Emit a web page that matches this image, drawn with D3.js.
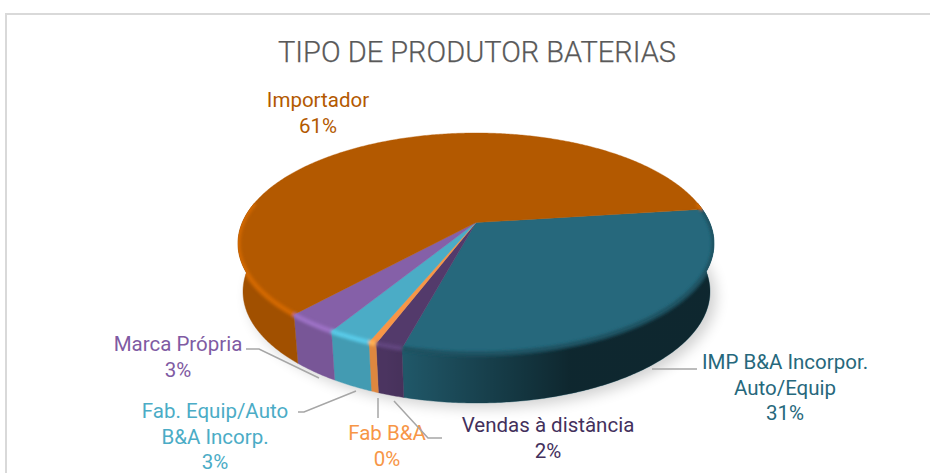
<!DOCTYPE html>
<html>
<head>
<meta charset="utf-8">
<script src="https://cdn.jsdelivr.net/npm/d3@7"></script>
<style>
html, body { margin: 0; padding: 0; background: #fff; overflow: hidden; }
text { font-family: Roboto, sans-serif; }
</style>
</head>
<body>
<svg id="chart" width="930" height="473"></svg>
<script>
// valores (ordem horária, a partir da fatia IMP)
const categories = ["IMP B&A Incorpor. Auto/Equip", "Vendas à distância", "Fab B&A", "Fab. Equip/Auto B&A Incorp.", "Marca Própria", "Importador"];
const shares = [31.2, 1.55, 0.45, 2.5, 3.0, 61.3];
const colors = ["#26687c", "#533a6b", "#f79646", "#4bacc6", "#8560a8", "#b35900"];
const labelColors = ["#26687c", "#43305c", "#f79646", "#4bacc6", "#7f5ba3", "#b35900"];
const titleText = "TIPO DE PRODUTOR BATERIAS";

const svg = d3.select("#chart");
const defs = svg.append("defs");

// moldura
svg.append("rect").attr("x", 6).attr("y", 14).attr("width", 1000).attr("height", 600)
    .attr("fill", "none").attr("stroke", "#d9d9d9").attr("stroke-width", 2);

svg.append("text").attr("x", 477).attr("y", 62).attr("text-anchor", "middle")
    .attr("font-size", 29).attr("font-weight", 300).attr("fill", "#595959")
    .attr("stroke", "#595959").attr("stroke-width", 0.25)
    .attr("textLength", 398).attr("lengthAdjust", "spacingAndGlyphs").text(titleText);

// elipse do topo e da base, perspectiva pelo deslocamento do centro
const topX = d3.scaleLinear().domain([-1, 1]).range([238, 714]);
const topY = d3.scaleLinear().domain([-1, 1]).range([133, 354]);
const baseX = d3.scaleLinear().domain([-1, 1]).range([243, 710]);
const baseY = d3.scaleLinear().domain([-1, 1]).range([180, 403]);
const persp = -0.19;

function rimPoint(angle, xs, ys) {
    const u = Math.sin(angle), v = -Math.cos(angle);
    const d = 1 + persp * v;
    return [xs(u * Math.sqrt(1 - persp * persp) / d), ys((v + persp) / d)];
}
const apex = [topX(0), topY(persp)];

const pie = d3.pie().sort(null).startAngle(82.7 * Math.PI / 180).endAngle((82.7 + 360) * Math.PI / 180);
const slices = pie(shares);

function arcAngles(a0, a1) {
    const n = Math.max(2, Math.ceil((a1 - a0) / 0.01));
    return d3.range(n + 1).map(i => a0 + (a1 - a0) * i / n);
}
const line = d3.line();

// só a parte da frente tem lateral (90° a 270° em ângulo d3, com folga nos extremos)
const frontStart = Math.PI / 2 - 0.19, frontEnd = 3 * Math.PI / 2 + 0.19;
function frontRange(s) {
    const out = [];
    [0, 2 * Math.PI].forEach(off => {
        const a0 = Math.max(s.startAngle - off, frontStart);
        const a1 = Math.min(s.endAngle - off, frontEnd);
        if (a1 > a0) out.push([a0, a1]);
    });
    return out;
}
function sidePath(a0, a1) {
    const angs = arcAngles(a0, a1);
    const top = angs.map(a => rimPoint(a, topX, topY));
    const base = angs.slice().reverse().map(a => rimPoint(a, baseX, baseY));
    return line(top.concat(base)) + "Z";
}

// sombra
defs.append("filter").attr("id", "soft").attr("x", "-20%").attr("y", "-20%").attr("width", "140%").attr("height", "140%")
    .append("feGaussianBlur").attr("stdDeviation", 7);
defs.append("filter").attr("id", "bevelBlur").attr("x", "-5%").attr("y", "-5%").attr("width", "110%").attr("height", "110%")
    .append("feGaussianBlur").attr("stdDeviation", 1.8);

const baseOutline = line(arcAngles(0, 2 * Math.PI).map(a => rimPoint(a, baseX, baseY))) + "Z";
svg.append("path").attr("d", baseOutline).attr("fill", "#000").attr("opacity", 0.18)
    .attr("filter", "url(#soft)").attr("transform", "translate(6,5)");

// escurecimento da lateral para a direita
const shade = defs.append("linearGradient").attr("id", "sideShade")
    .attr("gradientUnits", "userSpaceOnUse").attr("x1", 385).attr("x2", 570).attr("y1", 0).attr("y2", 0);
shade.append("stop").attr("offset", 0).attr("stop-color", "#000").attr("stop-opacity", 0);
shade.append("stop").attr("offset", 1).attr("stop-color", "#000").attr("stop-opacity", 0.58);

const sides = svg.append("g");
slices.forEach((s, i) => {
    frontRange(s).forEach(r => {
        sides.append("path").attr("d", sidePath(r[0], r[1]))
            .attr("fill", d3.color(colors[i]).darker(0.3)).attr("stroke", d3.color(colors[i]).darker(0.3)).attr("stroke-width", 0.4);
    });
});
sides.append("path").attr("d", sidePath(frontStart, frontEnd)).attr("fill", "url(#sideShade)");

// topo
slices.forEach((s, i) => {
    const rim = arcAngles(s.startAngle, s.endAngle).map(a => rimPoint(a, topX, topY));
    svg.append("path").attr("d", line([apex].concat(rim)) + "Z")
        .attr("fill", colors[i]).attr("stroke", colors[i]).attr("stroke-width", 0.4);
});

// brilho na borda, recortado pela silhueta da pizza
const topOutline = line(arcAngles(0, 2 * Math.PI).map(a => rimPoint(a, topX, topY))) + "Z";
const bevelClip = defs.append("clipPath").attr("id", "bevelClip");
bevelClip.append("path").attr("d", topOutline);
bevelClip.append("path").attr("d", sidePath(frontStart, frontEnd));
const bevel = svg.append("g").attr("clip-path", "url(#bevelClip)").append("g").attr("filter", "url(#bevelBlur)");
slices.forEach((s, i) => {
    frontRange(s).forEach(r => {
        const pts = arcAngles(r[0], r[1]).map(a => rimPoint(a, topX, topY));
        bevel.append("path").attr("d", line(pts)).attr("fill", "none")
            .attr("stroke", i === 0 ? d3.color(colors[i]).darker(0.7) : d3.color(colors[i]).brighter(0.45))
            .attr("stroke-width", 5);
    });
});

// rótulos
const labelLines = [
    ["IMP B&A Incorpor.", "Auto/Equip"],
    ["Vendas à distância"],
    ["Fab B&A"],
    ["Fab. Equip/Auto", "B&A Incorp."],
    ["Marca Própria"],
    ["Importador"]
];
const labelAnchors = [[785, 369], [548, 432], [387, 440], [215, 418], [178, 351], [318, 107]];
const leaders = [
    [[697, 369], [652, 369]],
    [[442, 438], [428, 438], [394, 401]],
    [[378, 418], [378, 398]],
    [[298, 412], [304, 412], [356, 391]],
    [[246, 349], [259, 349], [319, 378]]
];
const labelSize = 20.5;
slices.forEach((s, i) => {
    const t = svg.append("text").attr("x", labelAnchors[i][0]).attr("y", labelAnchors[i][1])
        .attr("text-anchor", "middle").attr("font-size", labelSize).attr("font-weight", 400)
        .attr("fill", labelColors[i]);
    labelLines[i].concat([Math.round(shares[i]) + "%"]).forEach((l, j) => {
        t.append("tspan").attr("x", labelAnchors[i][0]).attr("dy", j ? 25.5 : 0).text(l);
    });
});
svg.selectAll(".leader").data(leaders).enter().append("path").attr("class", "leader")
    .attr("d", d => line(d)).attr("fill", "none").attr("stroke", "#a6a6a6").attr("stroke-width", 1.5);
</script>
</body>
</html>
